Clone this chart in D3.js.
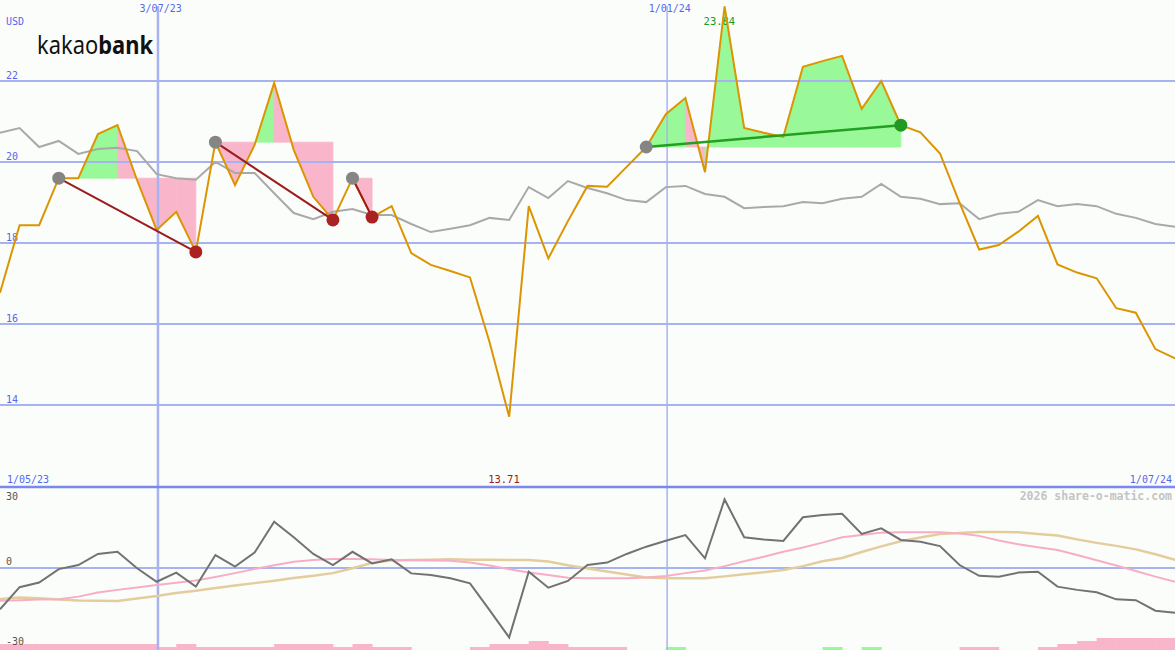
<!DOCTYPE html>
<html>
<head>
<meta charset="utf-8">
<script src="https://cdn.jsdelivr.net/npm/d3@7"></script>
<style>
  html, body { margin: 0; padding: 0; background: #fbfdfb; }
  svg { display: block; }
</style>
</head>
<body>
<script>
// ---------- DATA ----------
const startDate = "2023-05-08";           // first weekly point
const weeks = 61;                          // weekly closes
const price = [16.77,18.44,18.44,19.6,19.6,20.69,20.91,19.55,18.32,18.77,
  17.78,20.49,19.43,20.42,21.95,20.3,19.14,18.57,19.6,18.64,
  18.91,17.75,17.46,17.31,17.15,15.55,13.71,18.91,17.62,18.54,
  19.41,19.39,19.88,20.37,21.18,21.58,19.75,23.84,20.84,20.72,
  20.62,22.35,22.49,22.62,21.31,22.0,20.91,20.73,20.21,18.99,
  17.84,17.95,18.28,18.67,17.47,17.27,17.13,16.39,16.28,15.38,15.15];
const avgLine = [20.72,20.84,20.37,20.52,20.2,20.32,20.35,20.27,19.7,19.6,
  19.56,20.0,19.73,19.73,19.23,18.74,18.59,18.77,18.84,18.69,
  18.69,18.47,18.27,18.35,18.44,18.62,18.57,19.38,19.11,19.53,
  19.36,19.23,19.06,19.01,19.38,19.41,19.21,19.14,18.86,18.89,
  18.91,19.01,18.98,19.09,19.14,19.46,19.14,19.09,18.96,18.98,
  18.59,18.72,18.77,19.06,18.91,18.96,18.91,18.72,18.62,18.47,18.4];
const momentum = [-15.3,-7.1,-5.4,-0.4,1.1,5.2,6.0,-0.1,-5.1,-1.7,
  -6.9,4.8,0.5,5.7,17.1,11.4,5.2,1.1,6.0,1.7,
  3.2,-2.0,-2.6,-3.8,-5.7,-15.6,-25.7,-1.4,-7.3,-4.8,
  1.1,2.0,5.2,7.9,10.1,12.2,3.6,25.4,11.4,10.6,
  10.0,18.8,19.6,20.1,12.6,14.7,10.4,9.7,8.1,1.1,
  -2.9,-3.2,-1.7,-1.4,-6.9,-8.1,-9.0,-11.6,-11.9,-15.8,-16.6];
const pinkAvg = [-12.1,-11.9,-11.7,-11.6,-10.6,-9.1,-8.1,-7.2,-6.3,-5.5,
  -4.6,-3.3,-1.9,-0.4,1.0,2.3,3.0,3.3,3.3,3.2,
  3.0,2.9,2.8,2.7,2.0,0.9,-0.5,-1.7,-2.6,-3.6,
  -3.8,-3.8,-3.8,-3.5,-3.0,-1.9,-0.9,0.7,2.5,4.2,
  6.0,7.6,9.4,11.4,12.2,13.1,13.2,13.2,13.2,12.8,
  11.9,10.2,8.8,7.7,6.7,4.8,2.9,0.9,-1.1,-3.2,-5.1];
const tanAvg = [-11.5,-10.9,-11.2,-11.7,-12.0,-12.1,-12.2,-11.3,-10.4,-9.3,
  -8.4,-7.4,-6.5,-5.6,-4.7,-3.7,-2.9,-1.9,-0.1,1.9,
  2.8,3.0,3.1,3.2,3.1,3.1,3.0,3.0,2.4,1.0,
  -0.2,-1.3,-2.4,-3.5,-3.8,-3.8,-3.8,-3.1,-2.3,-1.6,
  -0.7,0.7,2.5,3.7,5.9,8.0,9.9,11.3,12.6,13.0,
  13.3,13.3,13.2,12.6,12.0,10.6,9.3,8.2,6.9,5.1,3.0];
// weekly signal bars (positive = green, negative = pink), one per week interval
const signalBars = [-2,-2,-2,-2,-2,-2,-2,-2,-1,-2,
  -1,-1,-1,-1,-2,-2,-2,-1,-2,-1,
  -1,0,0,0,-1,-2,-2,-3,-2,-1,
  -1,-1,0,0,1,0,0,0,0,0,
  0,0,1,0,1,0,0,0,0,-1,
  -1,0,0,-1,-2,-3,-4,-4,-4,-4];
// trend patterns: start index, end index, direction
const patternStart = [3, 11, 18, 33];
const patternEnd   = [10, 17, 19, 46];
const patternDir   = ["down", "down", "down", "up"];
const priceTicks = [14, 16, 18, 20, 22];
const lowerTicks = [30, 0, -30];
const dateTicks = ["2023-07-03", "2024-01-01"];
const currency = "USD";
const rangeLabels = ["1/05/23", "1/07/24"];
const brand = ["kakao", "bank"];
const credit = "2026 share-o-matic.com";

// ---------- CHART ----------
const W = 1175, H = 650;
const parse = d3.utcParse("%Y-%m-%d");
const t0 = parse(startDate);
const dates = d3.range(weeks).map(i => d3.utcDay.offset(t0, i * 7));

const x = d3.scaleUtc().domain([dates[0], dates[weeks - 1]]).range([0, W]);
const y = d3.scaleLinear().domain([14, 22]).range([405, 81]);
const y2 = d3.scaleLinear().domain([-30, 30]).range([649, 487]);

const svg = d3.select("body").append("svg").attr("width", W).attr("height", H)
  .style("background", "#fbfdfb");

const mono = "'DejaVu Sans Mono', monospace";
const gridCol = "#a7b3f1";
const green = "#99f999", pink = "#f9b6ca";

// pattern fills (area between the price and the pattern's starting level)
const fillG = svg.append("g");
patternStart.forEach((s, k) => {
  const e = patternEnd[k];
  const level = price[s];
  for (let i = s; i < e; i++) {
    const pts = [[x(dates[i]), y(level)], [x(dates[i]), y(price[i])],
                 [x(dates[i + 1]), y(price[i + 1])], [x(dates[i + 1]), y(level)]];
    const c = price[i + 1] >= level ? green : pink;
    fillG.append("path")
      .attr("d", d3.line()(pts) + "Z")
      .attr("fill", c).attr("stroke", c).attr("stroke-width", 0.8)
      .attr("stroke-linejoin", "miter");
  }
});

// bottom signal bars
const barG = svg.append("g");
signalBars.forEach((v, i) => {
  if (v === 0) return;
  const h = Math.abs(v) * 3;
  barG.append("rect")
    .attr("x", x(dates[i])).attr("width", x(dates[i + 1]) - x(dates[i]) + 0.5)
    .attr("y", H - h).attr("height", h)
    .attr("fill", v > 0 ? green : pink);
});

// horizontal grid lines (price panel)
svg.append("g").selectAll("line").data(priceTicks).join("line")
  .attr("x1", 0).attr("x2", W)
  .attr("y1", d => y(d)).attr("y2", d => y(d))
  .attr("stroke", gridCol).attr("stroke-width", 2);

// vertical date lines
svg.append("g").selectAll("line").data(dateTicks).join("line")
  .attr("x1", d => x(parse(d)) + 1.3).attr("x2", d => x(parse(d)) + 1.3)
  .attr("y1", 6).attr("y2", H)
  .attr("stroke", gridCol).attr("stroke-width", (d, i) => i === 0 ? 2.5 : 1.5);

// panel separator and zero line
svg.append("line").attr("x1", 0).attr("x2", W).attr("y1", 487).attr("y2", 487)
  .attr("stroke", "#7a89ee").attr("stroke-width", 2.5);
svg.append("line").attr("x1", 0).attr("x2", W).attr("y1", y2(0)).attr("y2", y2(0))
  .attr("stroke", gridCol).attr("stroke-width", 2);

// price axis labels
svg.append("g").selectAll("text").data(priceTicks).join("text")
  .attr("x", 6).attr("y", d => y(d) - 2.5)
  .attr("font-family", mono).attr("font-size", 10).attr("fill", "#5468ee")
  .text(d => d);
svg.append("text").attr("x", 6).attr("y", 25)
  .attr("font-family", mono).attr("font-size", 10).attr("fill", "#5468ee").text(currency);

// date labels
const fmt = d3.utcFormat("%-d/%m/%y");
svg.append("g").selectAll("text").data(dateTicks).join("text")
  .attr("x", d => x(parse(d)) + 4).attr("y", 12).attr("text-anchor", "middle")
  .attr("font-family", mono).attr("font-size", 10).attr("fill", "#5468ee")
  .text(d => fmt(parse(d)));
svg.append("text").attr("x", 7).attr("y", 483)
  .attr("font-family", mono).attr("font-size", 10).attr("fill", "#5468ee").text(rangeLabels[0]);
svg.append("text").attr("x", 1172).attr("y", 483).attr("text-anchor", "end")
  .attr("font-family", mono).attr("font-size", 10).attr("fill", "#5468ee").text(rangeLabels[1]);

// lower axis labels
svg.append("g").selectAll("text").data(lowerTicks).join("text")
  .attr("x", 6).attr("y", (d, i) => [500, 565, 645][i])
  .attr("font-family", mono).attr("font-size", 10).attr("fill", "#555")
  .text(d => d);

// credit
svg.append("text").attr("x", 1172).attr("y", 500).attr("text-anchor", "end")
  .attr("font-family", mono).attr("font-size", 11.5).attr("font-weight", "bold")
  .attr("fill", "#c4c4c4").text(credit);

// logo (single text, regular + bold part)
const logo = svg.append("text").attr("x", 37).attr("y", 54)
  .attr("font-family", "'Noto Sans', sans-serif").attr("font-size", 25)
  .attr("textLength", 116).attr("lengthAdjust", "spacingAndGlyphs")
  .attr("fill", "#111");
logo.append("tspan").text(brand[0]);
logo.append("tspan").attr("font-weight", "bold").text(brand[1]);

// max / min labels
const iMax = d3.maxIndex(price), iMin = d3.minIndex(price);
svg.append("text").attr("x", x(dates[iMax]) - 21).attr("y", 25)
  .attr("font-family", mono).attr("font-size", 10.5).attr("fill", "#229922")
  .text(price[iMax].toFixed(2));
svg.append("text").attr("x", x(dates[iMin]) - 21).attr("y", 483)
  .attr("font-family", mono).attr("font-size", 10.5).attr("fill", "#a01818")
  .text(price[iMin].toFixed(2));

// lower panel lines
const lineLow = d3.line().x((d, i) => x(dates[i])).y(d => y2(d));
svg.append("path").attr("d", lineLow(tanAvg)).attr("fill", "none")
  .attr("stroke", "#e4cd9d").attr("stroke-width", 2.5);
svg.append("path").attr("d", lineLow(pinkAvg)).attr("fill", "none")
  .attr("stroke", "#f7aec5").attr("stroke-width", 2);
svg.append("path").attr("d", lineLow(momentum)).attr("fill", "none")
  .attr("stroke", "#727272").attr("stroke-width", 2);

// price panel lines
const lineTop = d3.line().x((d, i) => x(dates[i])).y(d => y(d));
svg.append("path").attr("d", lineTop(avgLine)).attr("fill", "none")
  .attr("stroke", "#a9a9a9").attr("stroke-width", 2);
svg.append("path").attr("d", lineTop(price)).attr("fill", "none")
  .attr("stroke", "#dc9500").attr("stroke-width", 2);

// pattern lines and dots
patternStart.forEach((s, k) => {
  const e = patternEnd[k];
  const up = patternDir[k] === "up";
  svg.append("line")
    .attr("x1", x(dates[s])).attr("y1", y(price[s]))
    .attr("x2", x(dates[e])).attr("y2", y(price[e]))
    .attr("stroke", up ? "#22a022" : "#9b1c1c").attr("stroke-width", up ? 2.5 : 2);
  svg.append("circle").attr("cx", x(dates[s])).attr("cy", y(price[s])).attr("r", 6.5)
    .attr("fill", "#858585");
  svg.append("circle").attr("cx", x(dates[e])).attr("cy", y(price[e])).attr("r", 6.5)
    .attr("fill", up ? "#229922" : "#aa2222");
});
</script>
</body>
</html>
